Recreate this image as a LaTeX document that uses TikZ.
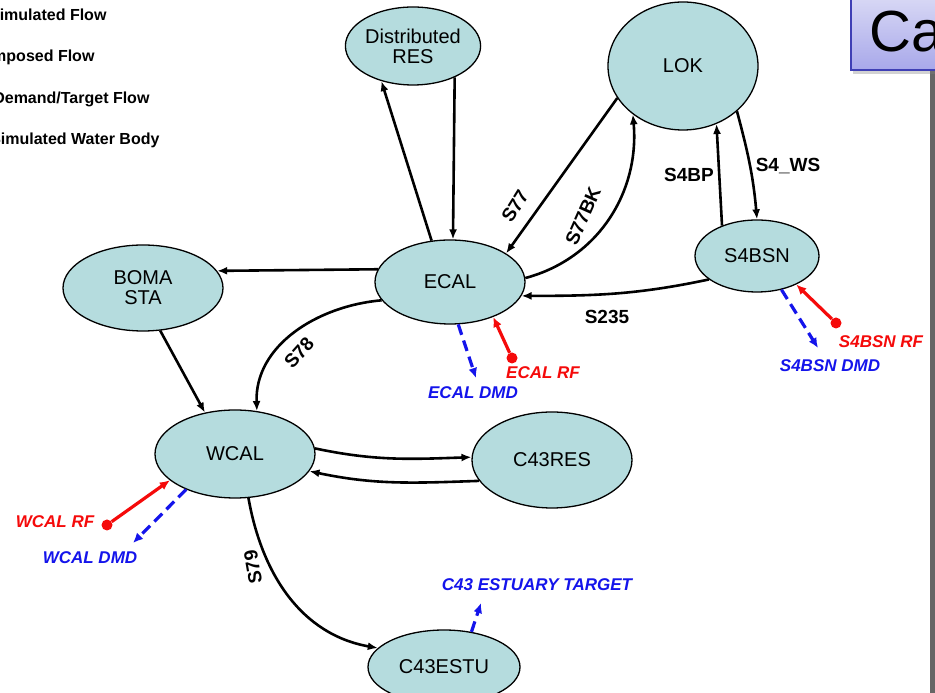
\documentclass[tikz,border=0pt]{standalone}
\usepackage{fontspec}
\setmainfont{Liberation Sans}
\usetikzlibrary{shapes.geometric,arrows.meta,shadows}
\definecolor{nodefill}{RGB}{181,220,222}
\definecolor{boxtop}{RGB}{222,222,246}
\definecolor{boxbot}{RGB}{168,168,234}
\definecolor{boxedge}{RGB}{63,63,181}
\definecolor{dmdblue}{RGB}{20,20,235}
\definecolor{rfred}{RGB}{245,10,10}
\begin{document}
\begin{tikzpicture}[x=1pt,y=1pt,
  body/.style={ellipse,draw=black,line width=1.3pt,fill=nodefill,inner sep=0pt,align=center,font=\fontsize{20}{22}\selectfont},
  flow/.style={line width=2.6pt,-{Latex[length=10pt,width=8pt]}},
  rfline/.style={rfred,line width=3.2pt,-{Latex[length=10pt,width=9pt]}},
  dmd/.style={dmdblue,line width=3.2pt,dash pattern=on 11pt off 6pt,-{Latex[length=10pt,width=9pt]}},
  lbl/.style={font=\bfseries\fontsize{19}{21}\selectfont},
  rflbl/.style={rfred,font=\bfseries\itshape\fontsize{17}{19}\selectfont},
  dmdlbl/.style={dmdblue,font=\bfseries\itshape\fontsize{17}{19}\selectfont},
  legend/.style={anchor=east,font=\bfseries\fontsize{16}{18}\selectfont},
  rfdot/.style={circle,fill=rfred,inner sep=0pt,minimum size=11pt}]
\useasboundingbox (0,0) rectangle (935,693);
\clip (0,0) rectangle (935,693);
\fill[white] (0,0) rectangle (935,693);

% legend (cut at the left edge)
\node[legend] (lg1) at (110,678) {Simulated Flow};
\node[legend] (lg2) at (98,636) {Imposed Flow};
\node[legend] (lg3) at (153,594) {Demand/Target Flow};
\node[legend] (lg4) at (163,553) {Simulated Water Body};

% title box (cut at the right edge)
\draw[gray!80!black,line width=5pt] (932,0) -- (932,623);
\shade[top color=boxtop,bottom color=boxbot,draw=boxedge,line width=1.5pt,
  drop shadow={shadow xshift=2pt,shadow yshift=-4pt,opacity=0.35}]
  (851,623) rectangle (950,705);
\node[anchor=base west,inner sep=0pt,font=\fontsize{58}{60}\selectfont] (ttl) at (869,641) {Ca};

% nodes
\node[body,minimum width=120,minimum height=78] (dres) at (413,647) {Distributed\\[-2pt]RES};
\node[body,minimum width=150,minimum height=128] (lok) at (683,627) {LOK};
\node[body,minimum width=124,minimum height=72] (s4bsn) at (757,437) {S4BSN};
\node[body,minimum width=150,minimum height=84] (ecal) at (450,411) {ECAL};
\node[body,minimum width=160,minimum height=86] (boma) at (143,405) {BOMA\\[-2pt]STA};
\node[body,minimum width=160,minimum height=88] (wcal) at (235,239) {WCAL};
\node[body,minimum width=160,minimum height=96] (c43res) at (552,233) {C43RES};
\node[body,minimum width=152,minimum height=74] (c43estu) at (444,26) {C43ESTU};

% simulated flows
\draw[flow] (ecal.114) -- (dres.228);
\draw[flow] (dres.323) -- (ecal.86);
\draw[flow] (ecal.170) -- (boma.13);
\draw[flow] (boma.292) -- (wcal.126);
\draw[flow] (ecal.195) to[out=185,in=92] (wcal.63);
\draw[flow] (lok.206) -- (ecal.27);
\draw[flow] (ecal.3) to[out=15,in=-85] (lok.224);
\draw[flow] (s4bsn.139) -- (lok.300);
\draw[flow] (lok.320) to[out=-75,in=95] (s4bsn.90);
\draw[flow] (s4bsn.206) to[out=192,in=0] (ecal.349);
\draw[flow] (wcal.4) to[out=-12,in=182] (c43res.178);
\draw[flow] (c43res.196) to[out=182,in=-12] (wcal.347);
\draw[flow] (wcal.287) to[out=-80,in=170] (c43estu.164);

% edge labels
\node[lbl,rotate=48] (l78) at (299,340) {S78};
\node[lbl,rotate=58] (l77) at (515,487) {S77};
\node[lbl,rotate=66] (l77bk) at (583,477) {S77BK};
\node[lbl] (l4bp) at (689,518) {S4BP};
\node[lbl] (l4ws) at (788,527) {S4\_WS};
\node[lbl] (l235) at (607,376) {S235};
\node[lbl,rotate=100] (l79) at (253,126) {S79};

% rainfall
\node[rfdot] (ecalrf) at (512,335) {};
\draw[rfline] (ecalrf) -- (ecal.321);
\node[rflbl] (ecalrft) at (543,320) {ECAL RF};
\node[rfdot] (s4rf) at (836,370) {};
\draw[rfline] (s4rf) -- (s4bsn.324);
\node[rflbl] (s4rft) at (881,351) {S4BSN RF};
\node[rfdot] (wcalrf) at (107,168) {};
\draw[rfline] (wcalrf) -- (wcal.202);
\node[rflbl] (wcalrft) at (55,171) {WCAL RF};

% demands
\coordinate (ecaldmd) at (476,315);
\draw[dmd] (ecal.281) -- (ecaldmd);
\node[dmdlbl] (ecaldmdt) at (473,300) {ECAL DMD};
\coordinate (s4dmd) at (818,345);
\draw[dmd] (s4bsn.306) -- (s4dmd);
\node[dmdlbl] (s4dmdt) at (830,327) {S4BSN DMD};
\coordinate (wcaldmd) at (133,150);
\draw[dmd] (wcal.216) -- (wcaldmd);
\node[dmdlbl] (wcaldmdt) at (90,135) {WCAL DMD};
\coordinate (c43tgt) at (481,90);
\draw[dmd] (c43estu.52) -- (c43tgt);
\node[dmdlbl] (c43tgtt) at (537,108) {C43 ESTUARY TARGET};
\end{tikzpicture}
\end{document}
